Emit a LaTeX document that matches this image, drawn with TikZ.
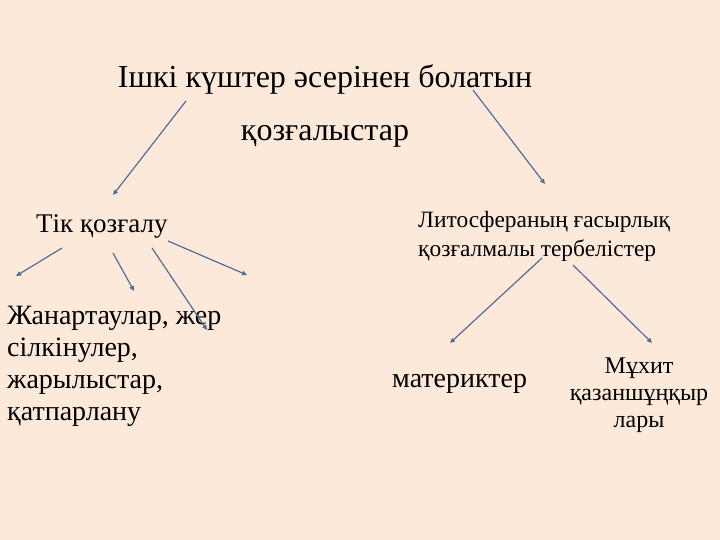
\documentclass[tikz,border=0pt]{standalone}
\usepackage{fontspec}
\setmainfont{Liberation Serif}
\usetikzlibrary{arrows.meta}
\definecolor{bgc}{RGB}{253,233,217}
\definecolor{arr}{RGB}{84,108,150}
\tikzset{
  conn/.style={draw=arr, line width=1.2pt, -{Triangle[length=5pt,width=4.5pt]}},
  txt/.style={inner sep=0pt, text=black},
}
\begin{document}
\begin{tikzpicture}[x=1pt,y=-1pt]
\fill[bgc] (0,0) rectangle (720,540);
\useasboundingbox (0,0) rectangle (720,540);
% texts
\node[txt, anchor=north, align=center, font=\fontsize{32}{53}\selectfont] (title) at (325,64) {Ішкі күштер әсерінен болатын\\қозғалыстар};
\node[txt, anchor=base west, font=\fontsize{27}{32}\selectfont] (tik) at (36,233) {Тік қозғалу};
\node[txt, anchor=north west, align=left, font=\fontsize{28}{32}\selectfont] (zhan) at (7,306) {Жанартаулар, жер\\сілкінулер,\\жарылыстар,\\қатпарлану};
\node[txt, anchor=north west, align=left, font=\fontsize{23.4}{29}\selectfont] (lito) at (418,211) {Литосфераның ғасырлық\\қозғалмалы тербелістер};
\node[txt, anchor=base west, font=\fontsize{28}{30}\selectfont] (mat) at (392,387) {материктер};
\node[txt, anchor=north, align=center, font=\fontsize{24}{27}\selectfont] (mux) at (639,358) {Мұхит\\қазаншұңқыр\\лары};
% arrow end points
\coordinate (a1s) at (186,101); \coordinate (a1e) at (113,195);
\coordinate (a2s) at (473,90);  \coordinate (a2e) at (545,184);
\coordinate (b1s) at (62,248);  \coordinate (b1e) at (16,276);
\coordinate (b2s) at (113,253); \coordinate (b2e) at (134,291);
\coordinate (b3s) at (152,248); \coordinate (b3e) at (207,330);
\coordinate (b4s) at (168,241); \coordinate (b4e) at (247,275);
\coordinate (c1s) at (542,258); \coordinate (c1e) at (450,343);
\coordinate (c2s) at (573,265); \coordinate (c2e) at (652,343);
\draw[conn] (a1s) -- (a1e);
\draw[conn] (a2s) -- (a2e);
\draw[conn] (b1s) -- (b1e);
\draw[conn] (b2s) -- (b2e);
\draw[conn] (b3s) -- (b3e);
\draw[conn] (b4s) -- (b4e);
\draw[conn] (c1s) -- (c1e);
\draw[conn] (c2s) -- (c2e);
\end{tikzpicture}
\end{document}
